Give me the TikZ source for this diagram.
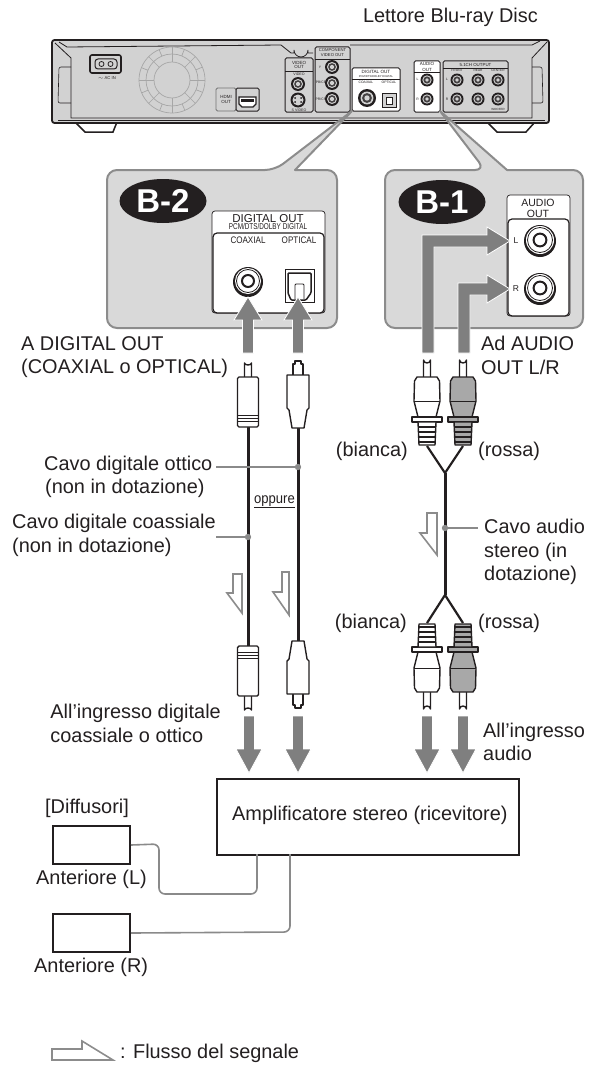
\documentclass[tikz,border=0pt]{standalone}
\usepackage{fontspec}
\setmainfont{Liberation Sans}
\definecolor{arrowgray}{HTML}{7F7F7F}
\definecolor{panelgray}{HTML}{D9D9D9}
\definecolor{edgegray}{HTML}{8C8C8C}
\definecolor{devgray}{HTML}{D2D2D2}
\definecolor{ink}{HTML}{231F20}
\definecolor{redplug}{HTML}{A8A8A8}
\definecolor{wire}{HTML}{8A8A8A}
\tikzset{
  lbl/.style={anchor=base west,inner sep=0pt,text=ink,font=\fontsize{19.9}{22}\selectfont},
  lble/.style={anchor=base east,inner sep=0pt,text=ink,font=\fontsize{19.9}{22}\selectfont},
  tiny/.style={anchor=base,inner sep=0pt,text=ink,font=\fontsize{#1}{#1}\selectfont},
  tiny/.default=4.5,
  panel/.style={fill=panelgray,draw=edgegray,line width=2pt,line join=round},
  bigarrow/.style={fill=arrowgray,draw=white,line width=0.8pt},
  hollow/.style={draw=edgegray,line width=1.6pt,fill=white,line join=miter},
  leader/.style={draw=wire,line width=1.6pt},
  cable/.style={draw=ink,line width=3pt},
  plugline/.style={draw=ink,line width=1.4pt,line join=round},
  devbox/.style={draw=ink,line width=1pt,rounded corners=1.5pt},
  bigbox/.style={draw=ink,line width=2pt,fill=white},
  badge/.style={ellipse,fill=ink,minimum width=87pt,minimum height=44pt,inner sep=0pt,text=white,font=\fontsize{33}{33}\selectfont\bfseries},
}
\usetikzlibrary{shapes.geometric}
\newcommand{\devjack}[3]{%
  \fill[ink] (#1,#2) circle (#3);
  \fill[devgray] (#1,#2) circle (#3*0.72);
  \fill[ink!85] (#1,#2) circle (#3*0.55);
  \fill[devgray] (#1,#2) circle (#3*0.3);}
\newcommand{\bigjack}[3]{%
  \fill[ink] (#1,#2+1) circle (#3);
  \fill[white] (#1,#2) circle (#3-2);
  \draw[ink,line width=0.8pt] (#1,#2) circle (#3-3.5);
  \draw[ink,line width=2pt] (#1,#2) circle (#3*0.4);}
\newcommand{\vup}[1]{%
  \path[bigarrow] (#1-5.5,353) -- (#1-5.5,320) -- (#1-14,320) -- (#1,297) -- (#1+14,320) -- (#1+5.5,320) -- (#1+5.5,353) -- cycle;}
\newcommand{\vdown}[1]{%
  \path[bigarrow] (#1-5.5,716) -- (#1-5.5,749) -- (#1-13,749) -- (#1,773) -- (#1+13,749) -- (#1+5.5,749) -- (#1+5.5,716) -- cycle;}
% RCA plug: x, tip y, direction (1 tip up / -1 tip down), body colour
\newcommand{\rcaplug}[4]{%
  \begin{scope}[shift={(#1,#2)},yscale=#3]
    \path[plugline,fill=white] (-3.5,22) -- (-3.5,3) arc[start angle=180,end angle=0,x radius=3.5,y radius=3] -- (3.5,22);
    \path[plugline,fill=#4] (-10,20) -- (-12.5,24) -- (-13,44) -- (-9,60) -- (9,60) -- (13,44) -- (12.5,24) -- (10,20) -- cycle;
    \draw[ink,line width=1pt] (-13,44) -- (13,44);
    \path[plugline,fill=#4] (-15,60) rectangle (15,65);
    \path[plugline,fill=#4] (-9,65) -- (-8,88) -- (8,88) -- (9,65) -- cycle;
    \foreach \yy in {70,75,80,85} \draw[ink,line width=1.1pt] (-8,\yy) -- (8,\yy);
  \end{scope}}
% coaxial plug
\newcommand{\coaxplug}[3]{%
  \begin{scope}[shift={(#1,#2)},yscale=#3]
    \path[plugline,fill=white] (-3.5,17) -- (-3.5,2) arc[start angle=180,end angle=0,x radius=3.5,y radius=2] -- (3.5,17);
    \path[plugline,fill=white,rounded corners=1.5pt] (-10.5,16) rectangle (10.5,66);
    \draw[ink,line width=.9pt] (-10,54) -- (10,54) (-10,57) -- (10,57) (-10,60) -- (10,60);
  \end{scope}}
% optical plug
\newcommand{\optplug}[3]{%
  \begin{scope}[shift={(#1,#2)},yscale=#3]
    \path[plugline,fill=white] (-4,15) -- (-5,15) -- (-5,4) -- (-3,4) -- (-3,1) -- (3,1) -- (3,4) -- (5,4) -- (5,15) -- (4,15);
    \path[plugline,fill=white] (-11,15) -- (-11,48) -- (-9,50) -- (-6,68) -- (6,68) -- (9,50) -- (11,48) -- (11,15) -- cycle;
  \end{scope}}
\begin{document}
\begin{tikzpicture}[x=1pt,y=-1pt]
\useasboundingbox (0,0) rectangle (592,1065);

% ---- device
\path[fill=white,draw=ink,line width=1.5pt] (75,122) -- (85,132) -- (113,132) -- (117,122) -- cycle;
\path[fill=white,draw=ink,line width=1.5pt] (487,122) -- (497,132) -- (526,132) -- (535,122) -- cycle;
\node[lble] (title) at (538,23) {Lettore Blu-ray Disc};
\path[fill=devgray,draw=ink,line width=1.8pt,rounded corners=2.5pt] (52,40) rectangle (549,123);
\draw[ink,line width=.8pt] (55,43) -- (71,58) -- (71,118) -- (532,118) -- (532,58) -- (547,42);
\draw[ink,line width=.8pt] (59,42) -- (67,47) -- (281,45) -- (291,53) -- (294,53) -- (294,50) arc[start angle=180,end angle=0,radius=7] -- (308,53) -- (313,53);
\draw[ink,line width=.8pt] (350,45) -- (532,45) -- (540,41);
\draw[ink,line width=.8pt] (58,120) -- (545,120);
\draw[ink,line width=.6pt,rounded corners=2pt] (71,67) -- (59,67) -- (58,103) -- (71,103);
\draw[ink,line width=.6pt,rounded corners=2pt] (532,67) -- (542,67) -- (543,103) -- (532,103);
% AC
\path[draw=ink,line width=1.6pt,fill=devgray,rounded corners=2pt] (90,55) rectangle (121,73);
\draw[ink,line width=1pt,rounded corners=3pt] (95,59) rectangle (117,69);
\draw[ink,line width=.8pt] (101.5,64) circle (2.5) (110.5,64) circle (2.5);
\node[tiny=4.2] (acin) at (107,79) {$\sim$ AC IN};
% fan
\begin{scope}[draw=black!35,line width=.7pt]
  \draw (172,80) circle (33) (172,80) circle (26) (172,80) circle (18);
  \foreach \a in {0,45,...,315} {\draw (172,80) ++(\a:18) -- ++(\a:15);}
  \foreach \a in {22,67,...,340} {\draw (172,80) ++(\a:26) -- ++(\a:7);}
\end{scope}
% hdmi
\path[draw=black!55,line width=.8pt,fill=devgray,rounded corners=1.5pt] (216,88) rectangle (236,111);
\node[tiny=4.5] (hdmi1) at (226,98) {HDMI};
\node[tiny=4.5] (hdmi2) at (226,103) {OUT};
\path[draw=ink,line width=1pt,fill=devgray,rounded corners=1.5pt] (236,88) rectangle (259,111);
\path[draw=ink,line width=1.4pt,fill=white] (239,97) -- (256,97) -- (256,104) -- (253,107) -- (242,107) -- (239,104) -- cycle;
\fill[ink] (241,99) rectangle (254,102);
% video out
\path[devbox,fill=devgray] (285,58) rectangle (313,112);
\draw[ink,line width=.8pt] (285,71) -- (313,71);
\node[tiny] (vo1) at (299,64) {VIDEO};
\node[tiny] (vo2) at (299,69) {OUT};
\node[tiny=3.6] (vo3) at (299,75.5) {VIDEO};
\devjack{298}{84}{7}
\fill[ink] (298,100) circle (7.5);
\fill[devgray] (298,100) circle (5.5);
\fill[ink] (295,98) circle (1) (301,98) circle (1) (295,102) circle (1) (301,102) circle (1);
\node[tiny=3.6] (vo4) at (299,111) {S VIDEO};
% component
\path[devbox,fill=devgray] (315,47) rectangle (350,112);
\draw[ink,line width=.8pt] (315,59) -- (350,59);
\node[tiny=4.2] (co1) at (332.5,51.5) {COMPONENT};
\node[tiny=4.2] (co2) at (332.5,56.5) {VIDEO OUT};
\devjack{332}{67}{7}
\devjack{332}{83}{7}
\devjack{332}{99}{7}
\node[tiny=3.4] (co3) at (320,68) {Y};
\node[tiny=3.4] (co4) at (321,84) {PB/CB};
\node[tiny=3.4] (co5) at (321,100) {PR/CR};
% digital out
\path[devbox,fill=white] (352,68) rectangle (400,111);
\draw[ink,line width=.8pt] (352,79) -- (400,79);
\node[tiny=4.6] (do1) at (376,73.5) {DIGITAL OUT};
\node[tiny=2.8] (do2) at (376,77.5) {PCM/DTS/DOLBY DIGITAL};
\node[tiny=3.4] (do3) at (366,84) {COAXIAL};
\node[tiny=3.4] (do4) at (389,84) {OPTICAL};
\devjack{367}{98}{9}
\path[draw=ink,line width=1pt,fill=devgray] (382,93) rectangle (396,107);
\path[draw=ink,line width=1pt,fill=white] (386,97) rectangle (392,104);
% audio out
\path[devbox,fill=white] (414,61) rectangle (440,112);
\draw[ink,line width=.8pt] (414,72) -- (440,72);
\node[tiny] (ao1) at (427,66) {AUDIO};
\node[tiny] (ao2) at (427,71) {OUT};
\node[tiny=3.4] (ao3) at (417.5,81) {L};
\node[tiny=3.4] (ao4) at (417.5,100) {R};
\devjack{427}{80}{6.5}
\devjack{427}{99}{6.5}
% 5.1
\path[devbox,fill=devgray] (443,61) rectangle (508,112);
\draw[ink,line width=.8pt] (443,68) -- (508,68);
\node[tiny=4.4] (ch) at (475.5,66.5) {5.1CH OUTPUT};
\node[tiny=3.2] (ch1) at (457,71) {FRONT};
\node[tiny=3.2] (ch2) at (478,71) {REAR};
\node[tiny=3.2] (ch3) at (498,71) {CENTER};
\node[tiny=3.4] (ch4) at (447,81) {L};
\node[tiny=3.4] (ch5) at (447,100) {R};
\node[tiny=3] (ch6) at (498,110) {WOOFER};
\foreach \xx in {457,478,498} {\devjack{\xx}{80}{6.5}\devjack{\xx}{99}{6.5}}

% ---- callout panels
\path[panel] (107,240) [rounded corners=10pt] -- (107,170) -- (275,170) [sharp corners] -- (352,111) -- (295,170) [rounded corners=10pt] -- (337,170) -- (337,328) -- (107,328) -- cycle;
\path[panel] (385,240) [rounded corners=10pt] -- (385,170) -- (485,170) [sharp corners] -- (440,111) -- (507,170) [rounded corners=10pt] -- (583,170) -- (583,328) -- (385,328) -- cycle;
\node[badge] (b2) at (163,201) {B-2};
\node[badge] (b1) at (442,202) {B-1};

% B-2 box
\path[draw=ink,line width=.7pt,fill=white,rounded corners=3pt] (212,211) rectangle (325,313);
\path[draw=ink,line width=1.2pt,fill=white,rounded corners=4pt] (213,233) rectangle (324,313);
\node[tiny=11.5] (d1) at (268,222) {DIGITAL OUT};
\node[tiny=8.5] (d2) at (268,229.5) {\scalebox{.75}[1]{PCM/DTS/DOLBY DIGITAL}};
\node[tiny=9.5] (d3) at (248,243) {\scalebox{.85}[1]{COAXIAL}};
\node[tiny=9.5] (d4) at (299,243) {\scalebox{.85}[1]{OPTICAL}};
\bigjack{248}{281}{15}
\path[draw=ink,line width=1pt,fill=white] (285,269) rectangle (314,302);
\draw[ink,line width=1.5pt,rounded corners=1pt] (288,273) -- (311,273) -- (311,293) -- (306,300) -- (291,300) -- (288,293) -- cycle;
\draw[ink,line width=.9pt,rounded corners=1pt] (295,299) -- (295,284) -- (304,284) -- (304,299);
\vup{248}
\vup{298}

% B-1 box
\path[draw=ink,line width=.7pt,fill=white,rounded corners=3pt] (507,195) rectangle (570,316);
\path[draw=ink,line width=1.2pt,fill=white,rounded corners=4pt] (508,219) rectangle (569,316);
\node[tiny=10.5] (a1) at (538,206) {AUDIO};
\node[tiny=10.5] (a2) at (538,217.5) {OUT};
\node[tiny=8.5] (a3) at (516,243) {L};
\node[tiny=8.5] (a4) at (516,291) {R};
\bigjack{540}{240}{16}
\bigjack{540}{288}{16}
\path[bigarrow] (422,353) -- (422,235) -- (487,235) -- (487,227) -- (510,241) -- (487,255) -- (487,247) -- (434,247) -- (434,353) -- cycle;
\path[bigarrow] (458,353) -- (458,283) -- (487,283) -- (487,275) -- (510,289) -- (487,303) -- (487,295) -- (470,295) -- (470,353) -- cycle;

% ---- cables and plugs
\coordinate (coaxT) at (248,427);
\coordinate (coaxB) at (248,646);
\coordinate (optT) at (298,428);
\coordinate (optB) at (298,641);
\coordinate (yT) at (445,473);
\coordinate (yB) at (445,595);
\coordinate (lT) at (427,446);
\coordinate (rT) at (463,446);
\coordinate (lB) at (427,623);
\coordinate (rB) at (463,623);
\draw[cable] (coaxT) -- (coaxB);
\draw[cable] (optT) -- (optB);
\draw[cable] (yT) -- (yB);
\draw[ink,line width=2.2pt] (lT) -- (yT) -- (rT);
\draw[ink,line width=2.2pt] (lB) -- (yB) -- (rB);
\coaxplug{248}{361}{1}
\optplug{298}{360}{1}
\coaxplug{248}{712}{-1}
\optplug{298}{709}{-1}
\rcaplug{427}{357}{1}{white}
\rcaplug{463}{357}{1}{redplug}
\rcaplug{427}{712}{-1}{white}
\rcaplug{463}{712}{-1}{redplug}
\vdown{249}
\vdown{298}
\vdown{427}
\vdown{463}

% ---- leaders
\coordinate (lead1a) at (216,467);
\coordinate (lead1b) at (298,467);
\coordinate (lead2a) at (216,537);
\coordinate (lead2b) at (248,537);
\coordinate (lead3a) at (445,528);
\coordinate (lead3b) at (478,528);
\draw[leader] (lead1a) -- (lead1b);
\draw[leader] (lead2a) -- (lead2b);
\draw[leader] (lead3a) -- (lead3b);
\fill[wire] (lead1b) circle (3.2) (lead2b) circle (3.2) (lead3a) circle (3.2);

% hollow arrows
\path[hollow] (242,574) -- (233,574) -- (233,593) -- (227,593) -- (242,613) -- cycle;
\path[hollow] (289,572) -- (282,572) -- (282,592) -- (273,592) -- (289,615) -- cycle;
\path[hollow] (437,513) -- (427,513) -- (427,533) -- (420,533) -- (437,555) -- cycle;

% ---- texts
\node[lbl] (t1) at (21,350) {A DIGITAL OUT};
\node[lbl] (t2) at (21,373) {(COAXIAL o OPTICAL)};
\node[lbl] (t3) at (44,470) {Cavo digitale ottico};
\node[lbl] (t4) at (45,493) {(non in dotazione)};
\node[lbl] (t5) at (12,528) {Cavo digitale coassiale};
\node[lbl] (t6) at (12,552) {(non in dotazione)};
\node[tiny=14.5] (opp) at (274.5,503) {\underline{\scalebox{.9}[1]{oppure}}};
\node[lbl] (t7) at (481,350) {Ad AUDIO};
\node[lbl] (t8) at (481,374) {OUT L/R};
\node[lble] (t9) at (408,456) {(bianca)};
\node[lbl] (t10) at (478,456) {(rossa)};
\node[lbl] (t11) at (484,533) {Cavo audio};
\node[lbl] (t12) at (484,557) {stereo (in};
\node[lbl] (t13) at (484,580) {dotazione)};
\node[lble] (t14) at (407,628) {(bianca)};
\node[lbl] (t15) at (478,628) {(rossa)};
\node[lble] (t16) at (221,718) {All’ingresso digitale};
\node[lbl] (t17) at (t16.base west |- 0,742) {coassiale o ottico};
\node[lbl] (t18) at (483,737) {All’ingresso};
\node[lbl] (t19) at (483,760) {audio};

% ---- amplifier and speakers
\node[bigbox,anchor=north west,minimum width=302pt,minimum height=76pt,inner sep=0pt] (amp) at (216,778) {};
\node[lbl] (amptxt) at (232,820) {Amplificatore stereo (ricevitore)};
\node[bigbox,anchor=north west,minimum width=77pt,minimum height=38pt,inner sep=0pt] (spkL) at (52,825) {};
\node[bigbox,anchor=north west,minimum width=77pt,minimum height=38pt,inner sep=0pt] (spkR) at (52,913) {};
\node[lbl] (t20) at (45,813) {[Diffusori]};
\node[lbl] (t21) at (36,884) {Anteriore (L)};
\node[lbl] (t22) at (34,972) {Anteriore (R)};
\coordinate (ampL) at (257,854);
\coordinate (ampR) at (290,854);
\draw[leader,rounded corners=6pt] (spkL.east) -- (159,844) -- (159,894) -- (257,894) -- (ampL);
\draw[leader,rounded corners=6pt] (spkR.east) -- (290,932) -- (ampR);

% ---- legend
\path[hollow] (52,1049) -- (82,1049) -- (82,1041) -- (113,1060) -- (52,1060) -- cycle;
\node[lbl] (t23) at (120,1058) {: Flusso del segnale};
\end{tikzpicture}
\end{document}
